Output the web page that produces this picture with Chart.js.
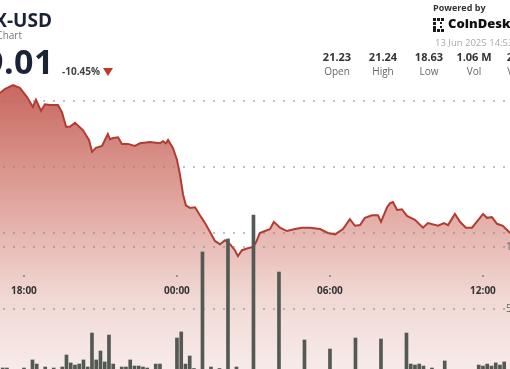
<!DOCTYPE html>
<html><head><meta charset="utf-8">
<script src="https://cdn.jsdelivr.net/npm/chart.js@4.4.1/dist/chart.umd.min.js"></script>
<style>
html,body{margin:0;padding:0;width:510px;height:369px;overflow:hidden;background:#fff;font-family:"Open Sans",sans-serif;}
#wrap{position:relative;width:510px;height:369px;overflow:hidden;}
canvas{position:absolute;left:0;top:0;}
.t{position:absolute;white-space:nowrap;line-height:1;}
.stat{position:absolute;width:50px;text-align:center;white-space:nowrap;line-height:1;}
.sq{position:absolute;width:3px;height:3px;background:#1a1a1a;}
</style></head>
<body><div id="wrap">
<canvas id="c" width="510" height="369"></canvas>
<div class="t" style="right:458px;top:11px;font-size:19px;font-weight:700;color:#1b2337;">AVAX-USD</div>
<div class="t" style="right:488px;top:30px;font-size:10px;color:#7a7a7a;">Price Chart</div>
<div class="t" style="right:456px;top:44px;font-size:34px;font-weight:700;color:#1b2337;letter-spacing:0.5px;">19.01</div>
<div class="t" style="left:62px;top:66px;font-size:10px;font-weight:700;color:#444;">-10.45%</div>
<div style="position:absolute;left:103px;top:68px;width:0;height:0;border-left:5px solid transparent;border-right:5px solid transparent;border-top:8px solid #c0392b;"></div>
<div class="t" style="left:433px;top:3px;font-size:9px;font-weight:700;color:#333;">Powered by</div>
<div style="position:absolute;left:433px;top:18px;width:13px;height:13px;">
  <div class="sq" style="left:0;top:0"></div><div class="sq" style="left:4px;top:0"></div><div class="sq" style="left:8px;top:0"></div>
  <div class="sq" style="left:0;top:4px"></div><div class="sq" style="left:0;top:8px"></div>
  <div class="sq" style="left:0;top:11px"></div><div class="sq" style="left:4px;top:11px"></div><div class="sq" style="left:8px;top:11px"></div>
  <div class="sq" style="left:7px;top:4px;width:2px;height:2px"></div><div class="sq" style="left:7px;top:8px;width:2px;height:2px"></div>
</div>
<div class="t" style="left:448px;top:17px;font-size:13px;font-weight:800;color:#111;">CoinDesk</div>
<div class="t" style="left:435px;top:38px;font-size:9.5px;color:#aaa;">13 Jun 2025 14:53</div>
<div id="stats"></div>
</div>
<script>
// Price line (hours since 00:00 of first day; values after midnight are 24+)
const priceHours = [17.06,17.25,17.57,17.84,18.12,18.35,18.47,18.67,18.82,19.02,19.33,19.49,19.65,19.80,20.00,20.31,20.55,20.67,20.82,21.06,21.29,21.37,21.49,21.69,21.84,22.08,22.35,22.55,22.94,23.33,23.45,23.57,23.65,23.84,24.00,24.12,24.24,24.35,24.51,24.71,24.90,25.10,25.29,25.49,25.69,25.88,26.08,26.27,26.39,26.55,26.78,26.98,27.10,27.25,27.45,27.65,27.80,28.04,28.31,28.63,28.90,29.22,29.61,29.92,30.20,30.51,30.78,30.98,31.18,31.37,31.65,31.88,32.00,32.24,32.35,32.47,32.63,32.82,33.02,33.33,33.65,33.84,34.24,34.47,34.63,34.90,35.10,35.33,35.57,35.88,36.00,36.16,36.35,36.55,36.78,37.06];
const priceValues = [21.12,21.18,21.24,21.20,21.06,20.91,21.02,20.85,20.95,20.94,20.94,20.83,20.61,20.61,20.67,20.56,20.41,20.23,20.29,20.32,20.50,20.42,20.44,20.45,20.35,20.35,20.32,20.36,20.38,20.36,20.39,20.36,20.41,20.29,20.11,19.88,19.58,19.42,19.38,19.39,19.27,19.15,19.02,18.88,18.83,18.89,18.83,18.74,18.65,18.74,18.77,18.79,18.86,19.00,19.03,19.06,19.17,19.08,19.03,19.06,19.08,19.08,19.06,19.00,18.98,19.06,19.21,19.11,19.12,19.23,19.27,19.27,19.17,19.39,19.45,19.47,19.35,19.36,19.26,19.20,19.08,19.15,19.11,19.15,19.12,19.29,19.17,19.08,19.08,19.23,19.29,19.23,19.24,19.14,19.11,19.00];
// Volume bars (thousands), one every 10 minutes from 17:00
const volumeStartHour = 17;
const volumeStepHours = 1/6;
const volumeValues = [1,2.4,2.4,1,1,1,2.4,1,8.9,5.6,1,3.2,1,2.4,1,3.2,12.9,6.5,4.8,5.6,8.9,3.2,30.6,8.9,16.1,7.3,29.0,5.6,1,3.2,3.2,8.9,4.0,4.0,3.2,2.4,1,5.6,5.6,1,1,1,26.6,31.5,5.6,12.1,2,1,96,1,3.2,1,2,1,106.5,1,3.2,1,1,1,125.8,1,1,1,1,1,79.8,1,1,1,1,1,25,1,1,1,1,1,17.7,1,1,1,1,1,26.6,1,1,1,1,1,25.8,1,1,1,1,1,30.6,5.6,4.8,5.6,4,1,2.4,1,1,8.1,1,1,1,1,1,1,1,4.8,4,5.6,4,6.5,4.8,7.3,1];
// Axis ticks
const timeTickHours = [18,24,30,36];
const timeTickLabels = ['18:00','00:00','06:00','12:00'];
const priceGrid = [19,20,21];
const volumeGrid = [50,100];
const volumeGridLabels = ['50K','100K'];
// Header stats
const statValues = ['21.23','21.24','18.63','1.06 M','20.12'];
const statLabels = ['Open','High','Low','Vol','VWAP'];
const statCenters = [337,383,429,474,521];

const statsEl = document.getElementById('stats');
statValues.forEach((v,i)=>{
  const a=document.createElement('div');a.className='stat';a.style.left=(statCenters[i]-25)+'px';a.style.top='51px';
  a.style.fontSize='11px';a.style.fontWeight='700';a.style.color='#333';a.textContent=v;statsEl.appendChild(a);
  const b=document.createElement('div');b.className='stat';b.style.left=(statCenters[i]-25)+'px';b.style.top='66px';
  b.style.fontSize='10px';b.style.color='#666';b.textContent=statLabels[i];statsEl.appendChild(b);
});

const priceData = priceHours.map((h,i)=>({x:h,y:priceValues[i]}));
const volumeData = volumeValues.map((v,i)=>({x:volumeStartHour+i*volumeStepHours,y:v}));

const ctx = document.getElementById('c').getContext('2d');
const grad = ctx.createLinearGradient(0,80,0,369);
grad.addColorStop(0,'#c7665d');
grad.addColorStop(0.45,'#e2aaa3');
grad.addColorStop(0.75,'#f1d8d4');
grad.addColorStop(1,'#f7ebe9');

const gridPlugin = {
  id:'grid',
  beforeDatasetDraw(chart,args){
    if(args.index!==0) return;
    const c=chart.ctx, yP=chart.scales.yP, yV=chart.scales.yV;
    c.save();
    c.strokeStyle='rgba(130,130,130,0.5)';c.lineWidth=2;c.setLineDash([2,8]);
    const ys=priceGrid.map(v=>yP.getPixelForValue(v)).concat(volumeGrid.map(v=>yV.getPixelForValue(v)));
    ys.forEach(y=>{c.beginPath();c.moveTo(3,Math.round(y));c.lineTo(510,Math.round(y));c.stroke();});
    c.restore();
  },
  afterDatasetsDraw(chart){
    const c=chart.ctx, x=chart.scales.x, yV=chart.scales.yV;
    c.save();
    c.font='700 10px "Open Sans"';c.fillStyle='#333';c.textAlign='center';c.textBaseline='middle';
    timeTickHours.forEach((h,i)=>{
      const px=x.getPixelForValue(h);
      c.fillStyle='rgba(120,120,120,0.7)';c.fillRect(Math.round(px)-1,275,2,2);
      c.fillStyle='#333';c.fillText(timeTickLabels[i],px,291);
    });
    c.font='10px "Open Sans"';c.fillStyle='#666';c.textAlign='left';
    volumeGrid.forEach((v,i)=>{c.fillText(volumeGridLabels[i],506,yV.getPixelForValue(v));});
    c.restore();
  }
};

new Chart(ctx,{
  data:{datasets:[
    {type:'bar',data:volumeData,yAxisID:'yV',backgroundColor:'#535953',barThickness:3,order:1},
    {type:'line',data:priceData,yAxisID:'yP',borderColor:'#b23c33',borderWidth:2,backgroundColor:grad,fill:'start',pointRadius:0,tension:0,order:2}
  ]},
  options:{
    responsive:false,animation:false,events:[],
    layout:{padding:0},
    plugins:{legend:{display:false},tooltip:{enabled:false}},
    scales:{
      x:{type:'linear',display:false,offset:false,min:17.06,max:37.06},
      yP:{type:'linear',display:false,min:16.94,max:22.53},
      yV:{type:'linear',display:false,min:1.6,max:299.2}
    }
  },
  plugins:[gridPlugin]
});
</script>
</body></html>
